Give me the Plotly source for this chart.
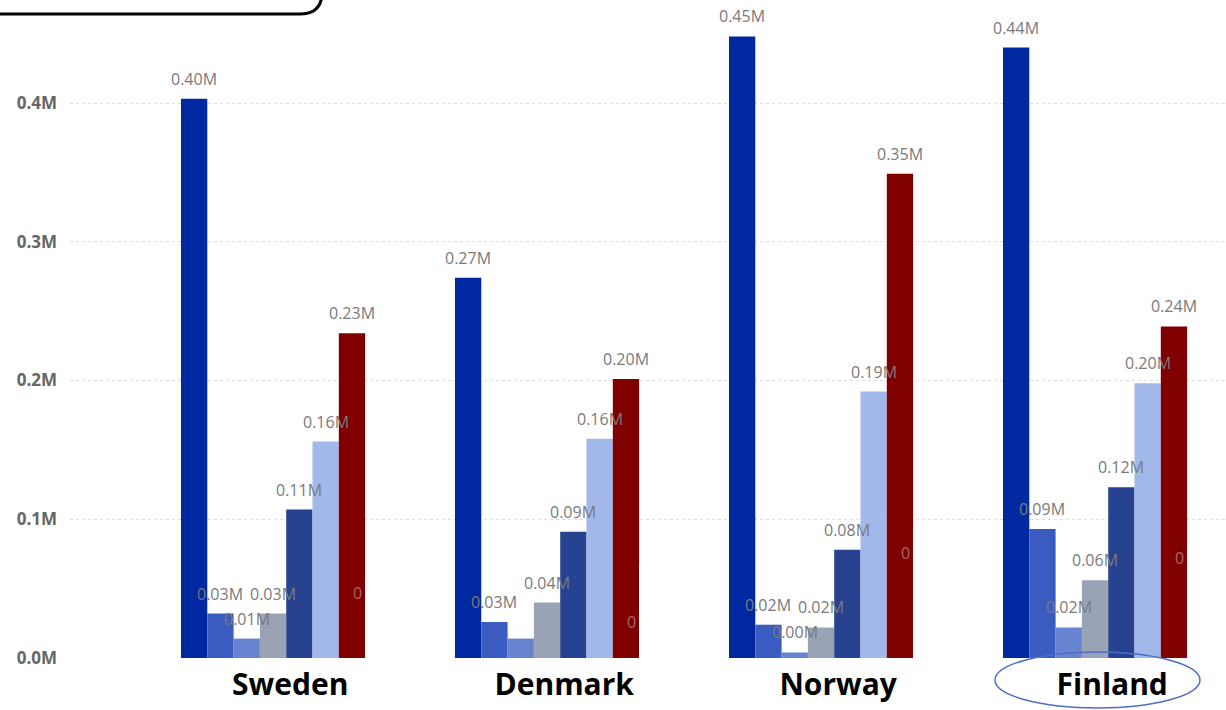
import plotly.graph_objects as go

# ---------------- data ----------------
countries = ["Sweden", "Denmark", "Norway", "Finland"]
series_names = ["S1", "S2", "S3", "S4", "S5", "S6", "S7", "S8"]
s1 = [0.403, 0.274, 0.448, 0.440]
s2 = [0.032, 0.026, 0.024, 0.093]
s3 = [0.014, 0.014, 0.004, 0.022]
s4 = [0.032, 0.040, 0.022, 0.056]
s5 = [0.107, 0.091, 0.078, 0.123]
s6 = [0.156, 0.158, 0.192, 0.198]
s7 = [0.234, 0.201, 0.349, 0.239]
s8 = [0.0, 0.0, 0.0, 0.0]
all_series = [s1, s2, s3, s4, s5, s6, s7, s8]
# labels hidden by the original chart (overlap)
hidden_labels = {(2, 1)}  # (series index, country index)
ytick_vals = [0.0, 0.1, 0.2, 0.3, 0.4]
ytick_text = ["0.0M", "0.1M", "0.2M", "0.3M", "0.4M"]

# ---------------- style ----------------
colors = ["#0028a0", "#3a5bbf", "#6884d0", "#9aa3b6", "#27438f", "#a2b7ea", "#800000", "rgba(0,0,0,0)"]
W, H = 1226, 710
L, R, T, B = 70, 0, 0, 52
PW, PH = W - L - R, H - T - B
bargap = 0.232
nser = len(all_series)
bw = (1 - bargap) / nser

def xp(px):
    return (px - L) / PW

def yp(py):
    return (H - B - py) / PH

fig = go.Figure()
for j, vals in enumerate(all_series):
    fig.add_trace(go.Bar(
        x=countries, y=vals, name=series_names[j],
        marker=dict(color=colors[j], line=dict(width=0)),
        hoverinfo="skip",
    ))

annotations = []
for j, vals in enumerate(all_series[:7]):
    for i, v in enumerate(vals):
        if (j, i) in hidden_labels:
            continue
        xc = i - (1 - bargap) / 2 + bw * (j + 0.5)
        annotations.append(dict(
            x=xc, y=v, xref="x", yref="y", text=f"{v:.2f}M", showarrow=False,
            yshift=20, xanchor="center", yanchor="middle",
            font=dict(family="Open Sans", size=16, color="#7a7a7a"),
        ))

# clipped "0" labels and white cover patches
zero_label_y = [0.047, 0.026, 0.076, 0.072]
cover_top = [0.056, 0.067, 0.094, 0.081]
shapes = []
for i in range(len(countries)):
    red_right = i - (1 - bargap) / 2 + bw * 7
    annotations.append(dict(
        x=red_right, y=zero_label_y[i], xref="x", yref="y", text="0", showarrow=False,
        xanchor="right", yanchor="middle", xshift=-1,
        font=dict(family="Open Sans", size=16, color="#a86a6a"),
    ))
    shapes.append(dict(
        type="rect", xref="x", yref="y", x0=red_right, x1=red_right + 0.2,
        y0=-0.02, y1=cover_top[i], fillcolor="white", line=dict(width=0), layer="above",
    ))

# ellipse around Finland
shapes.append(dict(
    type="circle", xref="paper", yref="paper",
    x0=xp(995), x1=xp(1200), y0=yp(708), y1=yp(652),
    line=dict(color="#4a6fc4", width=1.5),
))
# rounded box top-left
path = (f"M {xp(-20)},{yp(14)} L {xp(300)},{yp(14)} "
        f"Q {xp(322)},{yp(14)} {xp(322)},{yp(-8)} L {xp(322)},{yp(-30)}")
shapes.append(dict(
    type="path", xref="paper", yref="paper", path=path,
    line=dict(color="black", width=3),
))

fig.update_layout(
    width=W, height=H,
    margin=dict(l=L, r=R, t=T, b=B),
    barmode="group", bargap=bargap, bargroupgap=0,
    showlegend=False,
    plot_bgcolor="white", paper_bgcolor="white",
    annotations=annotations, shapes=shapes,
    xaxis=dict(
        range=[(L - 286.2) / 274, (W - 286.2) / 274],
        showgrid=False, zeroline=False, showline=False, ticks="",
        tickfont=dict(family="Open Sans", size=30, color="black", weight="bold"),
        ticklabelstandoff=6, ticklabelshift=4,
    ),
    yaxis=dict(
        range=[0, 658 / 1387.5],
        tickvals=ytick_vals, ticktext=ytick_text,
        showgrid=True, gridcolor="#dcdcdc", griddash="dot", gridwidth=1,
        zeroline=False, showline=False, ticks="",
        tickfont=dict(family="Open Sans", size=17, color="#666666", weight="bold"),
        ticklabelstandoff=12,
    ),
)

fig.write_html("out.html")
